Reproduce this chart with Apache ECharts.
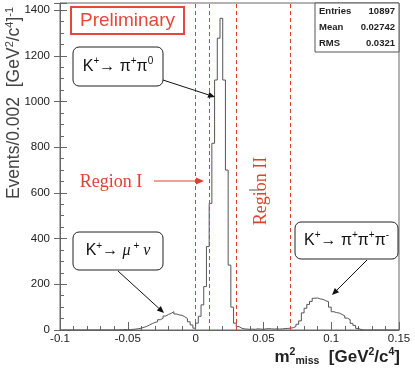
<!DOCTYPE html>
<html><head><meta charset="utf-8">
<script src="https://cdn.jsdelivr.net/npm/echarts@6/dist/echarts.min.js"></script>
<style>html,body{margin:0;padding:0;background:#fff}#c{width:415px;height:371px}</style>
</head><body><div id="c"></div>
<script>
// ---- binning ----
const BIN_MIN = -0.1, BIN_MAX = 0.15, BIN_WIDTH = 0.002;
// ---- histogram counts (125 bins of 0.002) ----
const countsLowTail = [0,0,0,0,0, 0,0,0,0,0, 0,0,0,0,0, 0,0,0,0,0, 0,1,1,2,1];          // -0.100 .. -0.050
const countsMuNu    = [2,3,4,6,8, 12,16,22,28,33, 36,45,51,61,68, 73,80,70,66,64, 58,50,36,22,8]; // -0.050 .. 0
const countsPiPi0   = [30,60,110,190,365, 554,817,1094,1277,1364, 1094,700,284,100,30];   // 0 .. 0.030
const countsFlat    = [15,8,5,4,3, 4,3,5,4,3, 5,6,5,4,5, 4,5,6,7,8];                      // 0.030 .. 0.070
const countsPiPiPi  = [10,15,25,40,75, 95,112,125,139,140, 136,134,128,124,100, 80,76,74,68,62,
                       52,45,29,20,7, 2,0,0,0,0, 0,0,0,0,0, 0,0,0,0,0];                  // 0.070 .. 0.150
const counts = [].concat(countsLowTail, countsMuNu, countsPiPi0, countsFlat, countsPiPiPi);

const regionEdges = [0, 0.01, 0.026, 0.072];
const xTickValues = [-0.1, -0.05, 0, 0.05, 0.1, 0.15];
const yTickValues = [0, 200, 400, 600, 800, 1000, 1200, 1400];
const statsRows = [['Entries', '10897'], ['Mean', '0.02742'], ['RMS', '0.0321']];

const SANS = '"Liberation Sans", Arial, sans-serif';
const SERIF = '"Liberation Serif", "DejaVu Serif", serif';
const AX = '#666';
const RED = '#e0402f';

const histData = counts.map((c, i) => [+(BIN_MIN + i * BIN_WIDTH).toFixed(3), c]);
histData.push([BIN_MAX, counts[counts.length - 1]]);

function arrow(x1, y1, x2, y2, color, len, half) {
  const a = Math.atan2(y2 - y1, x2 - x1);
  const bx = x2 - len * Math.cos(a), by = y2 - len * Math.sin(a);
  const px = -Math.sin(a) * half, py = Math.cos(a) * half;
  return [
    { type: 'line', shape: { x1, y1, x2: bx, y2: by }, style: { stroke: color, lineWidth: 1 }, z: 20 },
    { type: 'polygon', shape: { points: [[x2, y2], [bx + px, by + py], [bx - px, by - py]] }, style: { fill: color }, z: 20 }
  ];
}
function box(x, y, w, h, text, rich) {
  return [
    { type: 'rect', shape: { x, y, width: w, height: h, r: 6 }, style: { fill: '#fff', stroke: '#222', lineWidth: 1 }, z: 20 },
    { type: 'text', x: x + w / 2, y: y + h / 2, style: { text, rich, align: 'center', verticalAlign: 'middle' }, z: 21 }
  ];
}
const annRich = {
  n: { fontSize: 16, fontFamily: SANS, fill: '#111', lineHeight: 20, verticalAlign: 'middle' },
  i: { fontSize: 16, fontFamily: SERIF, fontStyle: 'italic', fill: '#111', lineHeight: 20, verticalAlign: 'middle' },
  s: { fontSize: 10, fontFamily: SANS, fill: '#111', lineHeight: 20, verticalAlign: 'top' }
};

const graphics = [];
// y-axis title
graphics.push({ type: 'text', x: 14, y: 103, rotation: Math.PI / 2,
  style: { text: '{n|Events/0.002  [GeV}{s|2}{n|/c}{s|4}{n|]}{s|-1}', align: 'center', verticalAlign: 'middle',
    rich: { n: { fontSize: 17.5, fontFamily: SANS, fill: '#444', lineHeight: 20, verticalAlign: 'middle' },
            s: { fontSize: 11, fontFamily: SANS, fill: '#444', lineHeight: 20, verticalAlign: 'top' } } } });
// x-axis title
graphics.push({ type: 'text', x: 400, y: 357,
  style: { text: '{n|m}{s|2}{b|miss}{n|  [GeV}{s|2}{n|/c}{s|4}{n|]}', align: 'right', verticalAlign: 'middle',
    rich: { n: { fontSize: 17, fontWeight: 'bold', fontFamily: SANS, fill: '#222', lineHeight: 20, verticalAlign: 'middle' },
            s: { fontSize: 10.5, fontWeight: 'bold', fontFamily: SANS, fill: '#222', lineHeight: 20, verticalAlign: 'top' },
            b: { fontSize: 10.5, fontWeight: 'bold', fontFamily: SANS, fill: '#222', lineHeight: 20, verticalAlign: 'bottom' } } } });
// Preliminary
graphics.push({ type: 'rect', shape: { x: 71, y: 7, width: 113, height: 27 }, style: { fill: '#fff', stroke: '#e5483b', lineWidth: 2 }, z: 20 });
graphics.push({ type: 'text', x: 127.5, y: 21, style: { text: 'Preliminary', font: '19px ' + SANS, fill: '#e5483b', align: 'center', verticalAlign: 'middle' }, z: 21 });
// stats box
graphics.push({ type: 'rect', shape: { x: 315, y: 3, width: 84, height: 49 }, style: { fill: '#fff', stroke: '#555', lineWidth: 1 }, z: 20 });
statsRows.forEach((r, k) => {
  graphics.push({ type: 'text', x: 319, y: 11 + 16 * k, style: { text: r[0], font: 'bold 9.5px ' + SANS, fill: '#222', align: 'left', verticalAlign: 'middle' }, z: 21 });
  graphics.push({ type: 'text', x: 395, y: 11 + 16 * k, style: { text: r[1], font: 'bold 9.5px ' + SANS, fill: '#222', align: 'right', verticalAlign: 'middle' }, z: 21 });
});
// annotation boxes
graphics.push(...box(73, 47, 90, 39, '{n|K}{s|+}{n|→ π}{s|+}{n|π}{s|0}', annRich));
graphics.push(...box(73, 232, 90, 38, '{n|K}{s|+}{n|→ }{i|μ}{s| +}{i| ν}', annRich));
graphics.push(...box(295, 222, 103, 37, '{n|K}{s|+}{n|→ π}{s|+}{n|π}{s|+}{n|π}{s|-}', annRich));
graphics.push(...arrow(163, 80, 215, 97, '#111', 7, 3));
graphics.push(...arrow(118, 271, 164, 313, '#111', 7, 3));
graphics.push(...arrow(367, 260, 332, 295, '#111', 7, 3));
// Region labels
graphics.push({ type: 'text', x: 111, y: 182, style: { text: 'Region I', font: '18px ' + SERIF, fill: RED, align: 'center', verticalAlign: 'middle' }, z: 21 });
graphics.push(...arrow(154, 181, 204, 181, RED, 8, 3.5));
graphics.push({ type: 'text', x: 261, y: 191, rotation: Math.PI / 2, style: { text: 'Region II', font: '18px ' + SERIF, fill: RED, align: 'center', verticalAlign: 'middle' }, z: 21 });
graphics.push({ type: 'line', shape: { x1: 249, y1: 190, x2: 259, y2: 190 }, style: { stroke: '#555', lineWidth: 1 }, z: 22 });

const chart = echarts.init(document.getElementById('c'), null, { renderer: 'canvas' });
chart.setOption({
  animation: false,
  backgroundColor: '#fff',
  grid: { left: 60, right: 16, top: 3, bottom: 41, show: true, borderColor: AX, borderWidth: 1, containLabel: false, outerBoundsMode: 'none' },
  xAxis: {
    type: 'value', min: BIN_MIN, max: BIN_MAX, interval: 0.05,
    axisLine: { show: true, onZero: false, lineStyle: { color: AX } },
    axisTick: { inside: true, length: 8, lineStyle: { color: AX } },
    minorTick: { show: true, splitNumber: 5, length: 4, lineStyle: { color: AX } },
    splitLine: { show: false },
    axisLabel: { fontSize: 11.5, fontFamily: SANS, color: '#222', margin: 3,
      formatter: v => { const r = Math.round(v * 100) / 100; return xTickValues.includes(r) ? String(r) : ''; } }
  },
  yAxis: [{
    type: 'value', min: 0, max: 1431, interval: 200,
    axisLine: { show: true, onZero: false, lineStyle: { color: AX } },
    axisTick: { inside: true, length: 7, lineStyle: { color: AX } },
    minorTick: { show: true, splitNumber: 4, length: 4, lineStyle: { color: AX } },
    splitLine: { show: false },
    axisLabel: { fontSize: 11.5, fontFamily: SANS, color: '#222', margin: 10, showMaxLabel: false,
      formatter: v => yTickValues.includes(v) ? String(v) : '' }
  }, {
    type: 'value', min: 0, max: 1431, interval: 200, position: 'left', offset: 0,
    axisLine: { show: false, onZero: false }, axisLabel: { show: false }, splitLine: { show: false },
    axisTick: { inside: false, length: 6, lineStyle: { color: AX } }
  }],
  series: [{
    type: 'line', step: 'end', data: histData, showSymbol: false, yAxisIndex: 0,
    lineStyle: { color: '#555', width: 1 }, silent: true,
    markLine: {
      silent: true, symbol: ['none', 'none'], label: { show: false },
      lineStyle: { type: [4, 3], color: RED, width: 1 },
      data: regionEdges.map(v => ({ xAxis: v }))
    }
  }],
  graphic: graphics
});
</script></body></html>
